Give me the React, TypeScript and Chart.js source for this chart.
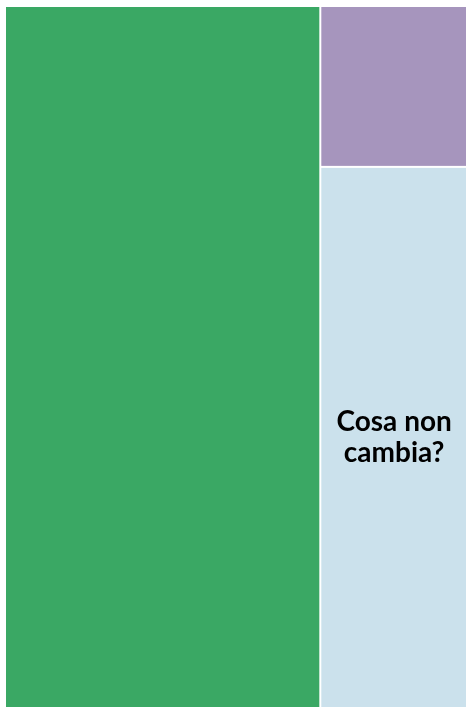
import React, { useEffect, useRef } from "react";
import { Chart, registerables } from "chart.js";

Chart.register(...registerables);

// Treemap data
const categories = ["Cosa cambia?", "Altro", "Cosa non cambia?"];
const values = [68.1, 7.3, 24.6];
const colors = ["#3aa864", "#a695bd", "#cbe1ec"];
const showLabel = [false, false, true];

type Rect = { x0: number; y0: number; x1: number; y1: number; i: number };

// Simple slice layout in value space (0..100 x 0..100):
// first item takes a full-height column, the rest share the remaining column stacked vertically.
function layout(vals: number[]): Rect[] {
  const total = vals.reduce((a, b) => a + b, 0);
  const rects: Rect[] = [];
  const w0 = (vals[0] / total) * 100;
  rects.push({ x0: 0, y0: 0, x1: w0, y1: 100, i: 0 });
  const rest = vals.slice(1);
  const restTotal = rest.reduce((a, b) => a + b, 0);
  let y = 0;
  rest.forEach((v, k) => {
    const h = (v / restTotal) * 100;
    rects.push({ x0: w0, y0: y, x1: 100, y1: y + h, i: k + 1 });
    y += h;
  });
  return rects;
}

const treemapPlugin = {
  id: "treemapRects",
  afterDatasetsDraw(chart: any) {
    const { ctx, scales } = chart;
    const xs = scales.x;
    const ys = scales.y;
    const rects = layout(values);
    const gap = 1;
    ctx.save();
    rects.forEach((r) => {
      const px0 = xs.getPixelForValue(r.x0) + gap;
      const px1 = xs.getPixelForValue(r.x1) - gap;
      const py0 = ys.getPixelForValue(r.y0) + gap;
      const py1 = ys.getPixelForValue(r.y1) - gap;
      ctx.fillStyle = colors[r.i];
      ctx.fillRect(px0, py0, px1 - px0, py1 - py0);
      if (showLabel[r.i]) {
        ctx.font = "bold 28px Lato, 'Open Sans', sans-serif";
        ctx.fillStyle = "#000000";
        ctx.textAlign = "center";
        ctx.textBaseline = "middle";
        const maxW = px1 - px0 - 10;
        const words = categories[r.i].split(" ");
        const lines: string[] = [];
        let cur = "";
        words.forEach((w) => {
          const t = cur ? cur + " " + w : w;
          if (ctx.measureText(t).width > maxW && cur) {
            lines.push(cur);
            cur = w;
          } else cur = t;
        });
        if (cur) lines.push(cur);
        const lh = 31;
        const cx = (px0 + px1) / 2;
        const cy = (py0 + py1) / 2;
        lines.forEach((ln, k) => {
          ctx.fillText(ln, cx, cy + (k - (lines.length - 1) / 2) * lh);
        });
      }
    });
    ctx.restore();
  },
};

export default function App() {
  const ref = useRef<HTMLCanvasElement | null>(null);
  useEffect(() => {
    document.body.style.margin = "0";
    const c = ref.current;
    if (!c) return;
    const chart = new Chart(c, {
      type: "scatter",
      data: { datasets: [{ data: [] }] },
      options: {
        animation: false,
        responsive: false,
        events: [],
        layout: { padding: { left: 5, top: 6, right: 2, bottom: 1 } },
        plugins: { legend: { display: false }, tooltip: { enabled: false } },
        scales: {
          x: { type: "linear", min: 0, max: 100, display: false },
          y: { type: "linear", min: 0, max: 100, reverse: true, display: false },
        },
      },
      plugins: [treemapPlugin],
    });
    return () => chart.destroy();
  }, []);
  return (
    <div style={{ width: 466, height: 707, overflow: "hidden", background: "#ffffff" }}>
      <canvas ref={ref} width={470} height={710} style={{ display: "block" }} />
    </div>
  );
}
